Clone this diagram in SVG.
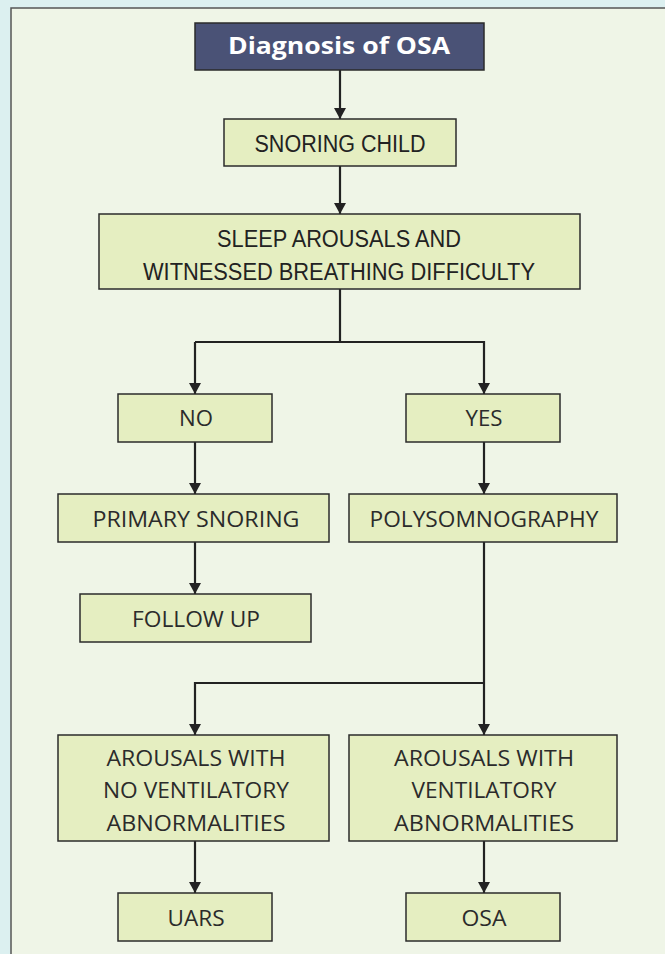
<svg xmlns="http://www.w3.org/2000/svg" width="665" height="954" viewBox="0 0 665 954">
<style>
.box{fill:#e5eec1;stroke:#2b2b2b;stroke-width:1.5}
.t{font-family:"Open Sans","Noto Sans",sans-serif;font-size:22px;fill:#2b2b2b;text-anchor:middle}
.n{font-family:"Liberation Sans",Arial,sans-serif;font-size:23px;fill:#222;text-anchor:middle}
.c{fill:none;stroke:#222;stroke-width:2.2}
</style>
<defs>
<marker id="ah" viewBox="0 0 11 12" refX="11" refY="6" markerWidth="11" markerHeight="12" markerUnits="userSpaceOnUse" orient="auto">
<path d="M0,0 L11,6 L0,12 z" fill="#222"/>
</marker>
</defs>
<rect x="0" y="0" width="665" height="954" fill="#dcf0f0"/>
<rect x="11" y="8" width="660" height="960" fill="#eff5e7" stroke="#555" stroke-width="1.5"/>
<g id="connectors">
<path class="c" d="M340,70 V119" marker-end="url(#ah)"/>
<path class="c" d="M340,166 V214" marker-end="url(#ah)"/>
<path class="c" d="M340,289 V342"/>
<path class="c" d="M195,342 H484 V394" marker-end="url(#ah)"/>
<path class="c" d="M195,342 V394" marker-end="url(#ah)"/>
<path class="c" d="M195,442 V494" marker-end="url(#ah)"/>
<path class="c" d="M484,442 V494" marker-end="url(#ah)"/>
<path class="c" d="M195,542 V594" marker-end="url(#ah)"/>
<path class="c" d="M484,542 V735" marker-end="url(#ah)"/>
<path class="c" d="M484,683 H195 V735" marker-end="url(#ah)"/>
<path class="c" d="M195,841 V893" marker-end="url(#ah)"/>
<path class="c" d="M484,841 V893" marker-end="url(#ah)"/>
</g>
<g id="title">
<rect x="195" y="23" width="289" height="47" fill="#4a5276" stroke="#2b2b2b" stroke-width="1.5"/>
<text x="339" y="54" font-family="'Open Sans','Noto Sans',sans-serif" font-weight="bold" font-size="24" fill="#fff" text-anchor="middle" textLength="222" lengthAdjust="spacingAndGlyphs">Diagnosis of OSA</text>
</g>
<g id="snoring">
<rect class="box" x="224" y="119" width="232" height="47"/>
<text class="n" x="340" y="152" textLength="171" lengthAdjust="spacingAndGlyphs">SNORING CHILD</text>
</g>
<g id="sleep">
<rect class="box" x="99" y="214" width="481" height="75"/>
<text class="n" x="339" y="247" textLength="244" lengthAdjust="spacingAndGlyphs">SLEEP AROUSALS AND</text>
<text class="n" x="339" y="280" textLength="392" lengthAdjust="spacingAndGlyphs">WITNESSED BREATHING DIFFICULTY</text>
</g>
<g id="no">
<rect class="box" x="118" y="394" width="154" height="48"/>
<text class="t" x="196" y="426" textLength="34" lengthAdjust="spacingAndGlyphs">NO</text>
</g>
<g id="yes">
<rect class="box" x="406" y="394" width="154" height="48"/>
<text class="t" x="484" y="426" textLength="37" lengthAdjust="spacingAndGlyphs">YES</text>
</g>
<g id="primary">
<rect class="box" x="58" y="494" width="271" height="48"/>
<text class="t" x="196" y="527" textLength="207" lengthAdjust="spacingAndGlyphs">PRIMARY SNORING</text>
</g>
<g id="poly">
<rect class="box" x="349" y="494" width="268" height="48"/>
<text class="t" x="484" y="527" textLength="229" lengthAdjust="spacingAndGlyphs">POLYSOMNOGRAPHY</text>
</g>
<g id="follow">
<rect class="box" x="80" y="594" width="231" height="48"/>
<text class="t" x="196" y="627" textLength="128" lengthAdjust="spacingAndGlyphs">FOLLOW UP</text>
</g>
<g id="arousals-no">
<rect class="box" x="58" y="735" width="271" height="106"/>
<text class="t" x="196" y="766" textLength="179" lengthAdjust="spacingAndGlyphs">AROUSALS WITH</text>
<text class="t" x="196" y="798" textLength="186" lengthAdjust="spacingAndGlyphs">NO VENTILATORY</text>
<text class="t" x="196" y="831" textLength="179" lengthAdjust="spacingAndGlyphs">ABNORMALITIES</text>
</g>
<g id="arousals-yes">
<rect class="box" x="349" y="735" width="268" height="106"/>
<text class="t" x="484" y="766" textLength="180" lengthAdjust="spacingAndGlyphs">AROUSALS WITH</text>
<text class="t" x="484" y="798" textLength="145" lengthAdjust="spacingAndGlyphs">VENTILATORY</text>
<text class="t" x="484" y="831" textLength="180" lengthAdjust="spacingAndGlyphs">ABNORMALITIES</text>
</g>
<g id="uars">
<rect class="box" x="118" y="893" width="154" height="48"/>
<text class="t" x="196" y="926" textLength="57" lengthAdjust="spacingAndGlyphs">UARS</text>
</g>
<g id="osa">
<rect class="box" x="406" y="893" width="154" height="48"/>
<text class="t" x="484" y="926" textLength="45" lengthAdjust="spacingAndGlyphs">OSA</text>
</g>
</svg>
